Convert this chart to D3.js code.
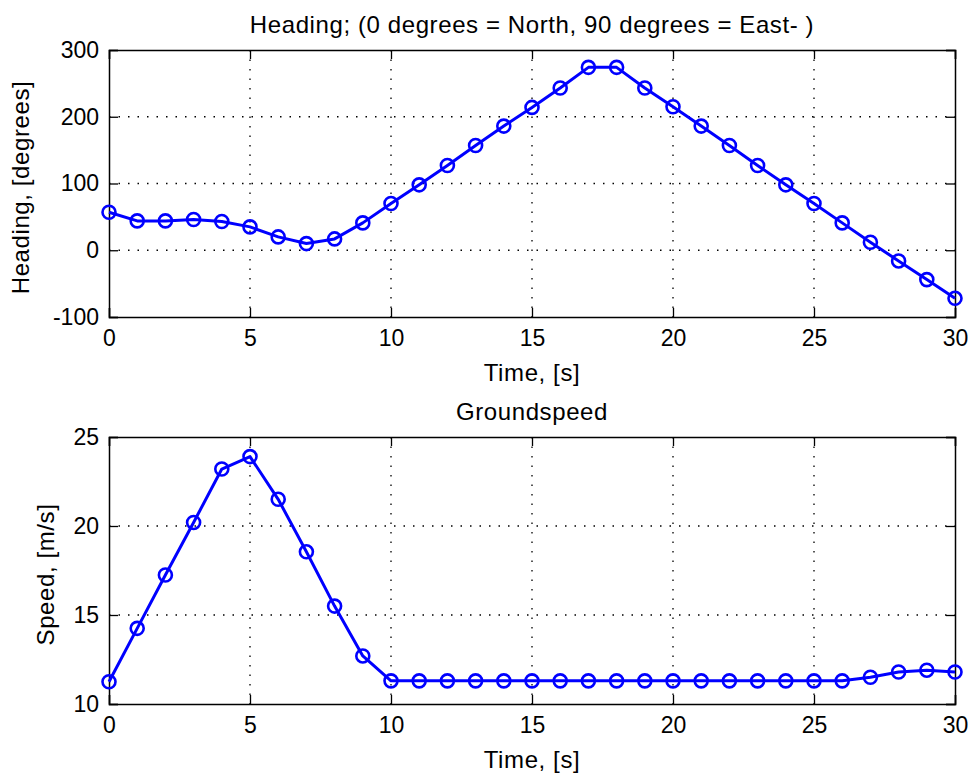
<!DOCTYPE html>
<html>
<head>
<meta charset="utf-8">
<script src="https://cdn.jsdelivr.net/npm/d3@7"></script>
<style>
  body { margin: 0; background: #fff; }
  text { font-family: "Liberation Sans", Arial, sans-serif; fill: #000; }
  .lbl { font-size: 24px; letter-spacing: 0.6px; }
</style>
</head>
<body>
<svg></svg>
<script>
const svg = d3.select('svg')
  .attr('width', 968)
  .attr('height', 776);

// time, seconds
const time = d3.range(0, 31);
// heading, degrees
const heading = [57, 44, 44, 46, 43, 35, 20, 10, 17, 41, 70, 98, 127, 157, 186, 214, 243, 274, 274, 243,
                 215, 186, 157, 127, 98, 70, 41, 12, -16, -44, -72];
// groundspeed, m/s
const speed = [11.25, 14.25, 17.25, 20.2, 23.2, 23.9, 21.5, 18.55, 15.5, 12.7, 11.3, 11.3, 11.3, 11.3, 11.3, 11.3,
               11.3, 11.3, 11.3, 11.3, 11.3, 11.3, 11.3, 11.3, 11.3, 11.3, 11.3, 11.5, 11.8, 11.9, 11.8];

const xTicks = [0, 5, 10, 15, 20, 25, 30];
const headingTicks = [-100, 0, 100, 200, 300];
const speedTicks = [10, 15, 20, 25];

const left = 109, right = 955;

const panel = (top, bottom, values, yDomain, yTicks, title, yLabel, yLabelX) => {
  const x = d3.scaleLinear().domain([0, 30]).range([left, right]);
  const y = d3.scaleLinear().domain(yDomain).range([bottom, top]);
  const g = svg.append('g');

  // dotted grid
  g.selectAll('.gx').data(xTicks.slice(1, -1)).enter().append('line')
    .attr('x1', d => x(d)).attr('x2', d => x(d))
    .attr('y1', top).attr('y2', bottom)
    .attr('stroke', '#000').attr('stroke-width', 1.3).attr('stroke-dasharray', '1.5,8');
  g.selectAll('.gy').data(yTicks.slice(1, -1)).enter().append('line')
    .attr('x1', left).attr('x2', right)
    .attr('y1', d => y(d)).attr('y2', d => y(d))
    .attr('stroke', '#000').attr('stroke-width', 1.3).attr('stroke-dasharray', '1.5,8');

  // axes, ticks inward on all sides
  const tl = 9;
  const fmt = d => String(d);
  g.append('g').attr('transform', `translate(0,${bottom})`)
    .call(d3.axisBottom(x).tickValues(xTicks).tickSize(-tl).tickPadding(13).tickFormat(fmt));
  g.append('g').attr('transform', `translate(0,${top})`)
    .call(d3.axisTop(x).tickValues(xTicks).tickSize(-tl).tickFormat(''));
  g.append('g').attr('transform', `translate(${left},0)`)
    .call(d3.axisLeft(y).tickValues(yTicks).tickSize(-tl).tickPadding(10).tickFormat(fmt));
  g.append('g').attr('transform', `translate(${right},0)`)
    .call(d3.axisRight(y).tickValues(yTicks).tickSize(-tl).tickFormat(''));
  g.selectAll('.domain').attr('stroke', '#000').attr('stroke-width', 1.5);
  g.selectAll('.tick line').attr('stroke', '#000').attr('stroke-width', 1.3);
  g.selectAll('.tick text').style('font-size', '23px').attr('fill', '#000');

  // data
  const line = d3.line().x((d, i) => x(time[i])).y(d => y(d));
  g.append('path').datum(values)
    .attr('d', line)
    .attr('fill', 'none').attr('stroke', '#0000ff').attr('stroke-width', 3)
    .attr('stroke-linejoin', 'round');
  g.selectAll('circle').data(values).enter().append('circle')
    .attr('cx', (d, i) => x(time[i])).attr('cy', d => y(d)).attr('r', 6.5)
    .attr('fill', 'none').attr('stroke', '#0000ff').attr('stroke-width', 2.6);

  // labels
  g.append('text').attr('class', 'lbl').attr('x', (left + right) / 2).attr('y', top - 17)
    .attr('text-anchor', 'middle').text(title);
  g.append('text').attr('class', 'lbl').attr('x', (left + right) / 2).attr('y', bottom + 64)
    .attr('text-anchor', 'middle').text('Time, [s]');
  g.append('text').attr('class', 'lbl')
    .attr('transform', `translate(${yLabelX},${(top + bottom) / 2 + 4}) rotate(-90)`)
    .attr('text-anchor', 'middle').text(yLabel);
};

panel(50, 317, heading, [-100, 300], headingTicks,
  'Heading; (0 degrees = North, 90 degrees = East- )', 'Heading, [degrees]', 29);
panel(437, 704, speed, [10, 25], speedTicks,
  'Groundspeed', 'Speed, [m/s]', 54);
</script>
</body>
</html>
